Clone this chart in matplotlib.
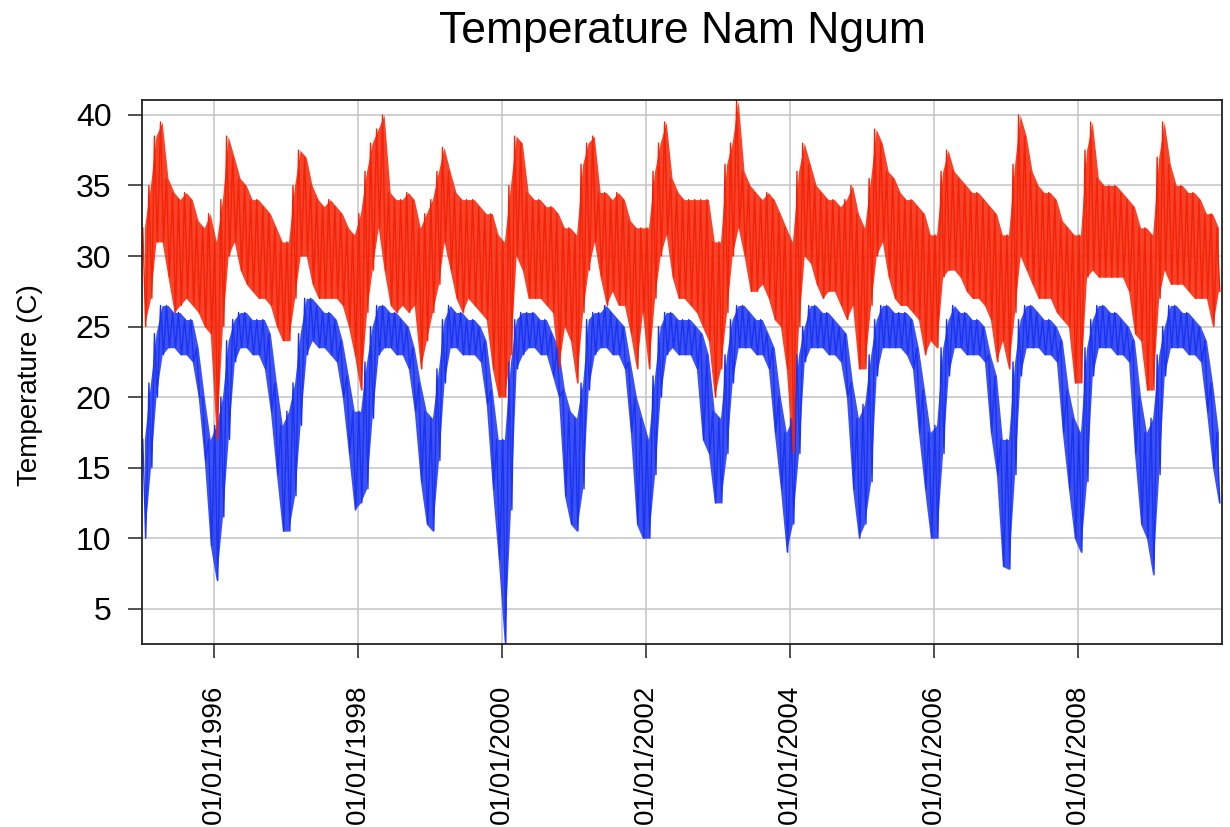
import numpy as np
import matplotlib
matplotlib.use("Agg")
import matplotlib.pyplot as plt

plt.rcParams['font.family'] = ['Liberation Sans', 'DejaVu Sans']

# monthly readings, Jan 1995 .. Dec 2009 (upper / lower edge of the daily trace)
tmax_hi = [
    32, 35, 38.5, 39.5, 35.5, 34.5, 34, 34.5, 34, 32.5, 32, 33,      # 1995
    31, 34, 38.5, 37, 35.5, 35, 34, 34, 33.5, 33, 32, 31,            # 1996
    31, 35, 37.5, 37, 35, 34, 33.5, 34, 33.5, 33, 32, 31.5,          # 1997
    33, 36, 38, 39, 40, 34.5, 34, 34, 34.5, 34, 32, 33,              # 1998
    34, 36, 37.7, 36, 34.5, 34, 34, 34, 33.5, 33, 33, 31.5,          # 1999
    31, 35, 38.5, 38, 34.5, 34, 34, 33.5, 33.5, 33, 32, 32,          # 2000
    31.5, 36.5, 38, 38.5, 34.5, 34.5, 34, 34.5, 34, 32.5, 32, 32,    # 2001
    32, 36, 38, 39.5, 35.5, 34.5, 34, 34, 34, 34, 34, 31,            # 2002
    31, 36.5, 38, 41, 36, 35, 34.5, 34, 34.5, 34, 33, 32,            # 2003
    31, 36, 38, 36.5, 35, 34.5, 34, 34, 33.5, 34, 35, 33,            # 2004
    32, 35.5, 39, 38, 36, 35.5, 34.5, 34, 34, 33.5, 33, 31.5,        # 2005
    31.5, 36, 37.5, 36, 35.5, 35, 34.5, 34.5, 34, 33.5, 33, 31.5,    # 2006
    31.5, 36.5, 40, 38.5, 36, 35, 34.5, 34.5, 34, 32.5, 32, 31.5,    # 2007
    31.5, 37.5, 39.5, 35.5, 35, 35, 35, 34.5, 34, 33.5, 32, 32,      # 2008
    31.5, 37, 39.5, 36.5, 35, 35, 34.5, 34.5, 34, 33, 33, 32,        # 2009
]
tmax_lo = [
    25, 27, 31, 31, 28.5, 26, 26.5, 27, 26.5, 26, 25, 24.5,          # 1995
    17, 25, 30, 31, 29, 28, 27.5, 27, 27, 26.5, 25, 24,              # 1996
    24, 27, 30, 30, 28, 27, 27, 27, 27, 26.5, 25, 23,                # 1997
    20.5, 26, 29, 32, 29, 26.5, 26, 26.5, 26, 26.5, 22, 24,          # 1998
    26, 28, 31, 29, 27, 26, 27, 26.5, 26, 25.5, 22, 20,              # 1999
    20, 23, 30, 29, 27, 27, 27, 26.5, 26, 22, 25, 24,                # 2000
    21, 26, 29, 31, 28.5, 26.5, 27.5, 26.5, 26.5, 24.5, 22, 26,      # 2001
    22, 27, 30, 31.5, 28.5, 27, 27, 26.5, 26, 25, 24, 20,            # 2002
    22, 26, 30, 32, 30, 27.5, 27.5, 28, 27, 25.5, 25, 22,            # 2003
    16, 25, 30, 29.5, 28, 27, 27.5, 27.5, 26.5, 25.5, 26.5, 22,      # 2004
    22, 26.5, 30, 31, 28.5, 27, 26.5, 26.5, 26, 25.5, 23, 24,        # 2005
    23.5, 28.5, 29, 29, 28.5, 27.5, 27, 27, 26.5, 25.5, 22.5, 24,    # 2006
    22, 26, 30, 29, 28, 27, 27, 27, 26, 25.5, 25, 21,                # 2007
    21, 28.5, 29, 28.5, 28.5, 28.5, 28.5, 28.5, 27.5, 24.5, 24, 20.5,  # 2008
    20.5, 27, 29, 28, 28, 28, 27.5, 27, 27, 27, 25, 27.5,            # 2009
]
tmin_hi = [
    17, 21, 24.5, 26.5, 26.5, 26, 26, 25.5, 25.5, 23.5, 20, 17,      # 1995
    18, 20, 24, 25.5, 26, 26, 25.5, 25.5, 25.5, 24.5, 21, 18,        # 1996
    19, 21, 24.5, 27, 27, 26.5, 26, 26, 25.5, 24, 21.5, 19,          # 1997
    19, 22.5, 25, 26.5, 26.5, 26, 26, 25.5, 25, 23.5, 21, 19,        # 1998
    18.5, 22, 25.5, 26.5, 26, 26, 25.5, 25.5, 25, 24, 20.5, 17,      # 1999
    17, 22.5, 25.5, 26, 26, 26, 25.5, 25.5, 24.5, 23.5, 20.5, 19,    # 2000
    18.5, 21, 25.5, 26, 26, 26.5, 26, 25.5, 25, 22.5, 20, 18.5,      # 2001
    17, 21.5, 25, 26, 26, 25.5, 25.5, 25.5, 25, 24.5, 23, 19,        # 2002
    18.5, 23, 25.5, 26.5, 26.5, 26, 25.5, 25.5, 24.5, 23.5, 20, 17.5,  # 2003
    18.5, 23, 25, 26.5, 26.5, 26, 26, 25.5, 25, 24.5, 21, 18.5,      # 2004
    19.5, 23, 25.5, 26.5, 26.5, 26, 26, 26, 25.5, 23.5, 20.5, 17.5,  # 2005
    18, 23.5, 25.5, 26.5, 26, 26, 25.5, 25.5, 25, 23, 21.5, 17,      # 2006
    17, 22.5, 25.5, 26.5, 26.5, 26, 25.5, 25.5, 25, 24, 20.5, 18.5,  # 2007
    17.5, 23.5, 25.5, 26.5, 26.5, 26, 26, 25.5, 25, 24, 20, 17.5,    # 2008
    18.5, 23, 25, 26.5, 26.5, 26, 26, 25.5, 25, 24, 21, 17.5,        # 2009
]
tmin_lo = [
    10, 15, 20, 23, 23.5, 23.5, 23, 23, 22.5, 20, 15.5, 9.5,         # 1995
    7, 11.5, 17, 22.5, 23.5, 23.5, 23, 23, 22, 19, 14.5, 10.5,       # 1996
    10.5, 13, 18, 23, 24, 23.5, 23.5, 23, 22.5, 20, 16, 12,          # 1997
    12.5, 13.5, 18.5, 23, 23.5, 23.5, 23, 23, 22, 19, 14, 11,        # 1998
    10.5, 15.5, 21, 23.5, 23.5, 23, 23, 23, 22.5, 19.5, 13.5, 8.5,   # 1999
    2.5, 12, 22, 23, 23.5, 23.5, 23, 23, 21.5, 20, 13, 11,           # 2000
    10.5, 13.5, 20.5, 23, 23.5, 23.5, 23, 23, 22, 17.5, 11, 10,      # 2001
    10, 14.5, 20, 23, 23.5, 23, 23, 23, 22, 17, 16, 12.5,            # 2002
    12.5, 16, 21, 23.5, 23.5, 23.5, 23, 23, 22, 17.5, 13.5, 9,       # 2003
    11, 16, 22.5, 23.5, 23.5, 23.5, 23, 23, 22.5, 20, 13.5, 10,      # 2004
    11, 14, 21.5, 23.5, 23.5, 23.5, 23.5, 23, 22, 17.5, 13.5, 10,    # 2005
    10, 16, 21.5, 23.5, 23.5, 23, 23, 23, 22.5, 17.5, 14.5, 8,       # 2006
    7.8, 14.5, 21.5, 23.5, 23.5, 23.5, 23, 23, 22.5, 17.5, 13.5, 10,  # 2007
    9, 14, 21.5, 23.5, 23.5, 23.5, 23, 23, 22.5, 16, 11, 10,         # 2008
    7.4, 14.5, 21.5, 23.5, 23.5, 23.5, 23, 23, 22.5, 19, 15, 12.5,   # 2009
]
tick_years = [1996, 1998, 2000, 2002, 2004, 2006, 2008]
y_ticks = [5, 10, 15, 20, 25, 30, 35, 40]

months = np.arange('1995-01', '2010-01', dtype='datetime64[M]').astype('datetime64[D]')
x_hi = months + 4
x_lo = months + 19
x_mid = months + 12


def zigzag(hi, lo):
    x = np.column_stack([x_hi, x_lo]).ravel()
    y = np.column_stack([hi, lo]).ravel()
    return x, y


fig = plt.figure(figsize=(12.3, 8.27), dpi=100)
ax = fig.add_axes([142 / 1230, 1 - 644 / 827, 1080 / 1230, 544 / 827])

ax.grid(True, color='#c8c8c8', lw=1.2)
ax.set_axisbelow(True)

blue = '#1a33f2'
red = '#f52205'
ax.fill_between(x_mid, tmin_lo, tmin_hi, color=blue, lw=0, alpha=0.85)
x, y = zigzag(tmin_hi, tmin_lo)
ax.plot(x, y, color=blue, lw=1.0)
ax.fill_between(x_mid, tmax_lo, tmax_hi, color=red, lw=0, alpha=0.85)
x, y = zigzag(tmax_hi, tmax_lo)
ax.plot(x, y, color=red, lw=1.0)

ax.set_xlim(np.datetime64('1995-01-01'), np.datetime64('2009-12-31'))
ax.set_ylim(2.5, 41.06)
ax.set_yticks(y_ticks)
ax.set_xticks([np.datetime64('%d-01-01' % yr) for yr in tick_years])
ax.set_xticklabels(['01/01/%d' % yr for yr in tick_years], rotation=90, va='top')
ax.tick_params(axis='both', length=10, width=1.2, color='#333333')
ax.tick_params(axis='y', labelsize=23, pad=12)
ax.tick_params(axis='x', labelsize=20, pad=19)
for s in ax.spines.values():
    s.set_linewidth(1.3)
    s.set_color('#222222')

fig.text(682 / 1230, 1 - 31 / 827, 'Temperature Nam Ngum', ha='center', va='center', fontsize=32)
fig.text(30 / 1230, 1 - 385 / 827, 'Temperature (C)', rotation=90, ha='center', va='center', fontsize=20)

fig.savefig('out.png', dpi=100)
